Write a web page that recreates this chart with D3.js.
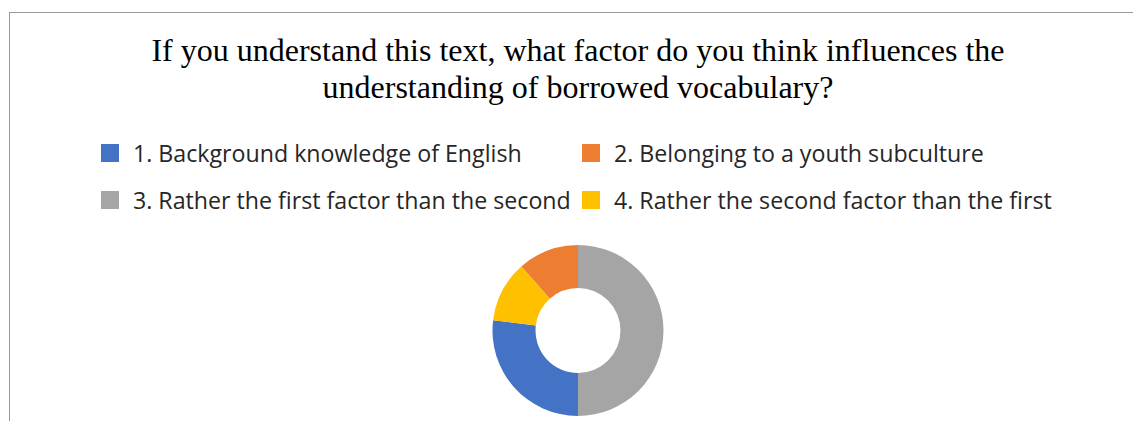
<!DOCTYPE html>
<html>
<head>
<meta charset="utf-8">
<script src="https://cdn.jsdelivr.net/npm/d3@7"></script>
<style>
  html, body { margin: 0; padding: 0; background: #fff; }
  svg { display: block; }
</style>
</head>
<body>
<svg id="chart" width="1133" height="421"></svg>
<script>
// Survey answers: number of respondents per factor
const categories = [
  "1. Background knowledge of English",
  "2. Belonging to a youth subculture",
  "3. Rather the first factor than the second",
  "4. Rather the second factor than the first"
];
const counts = [7, 3, 13, 3];
const colors = ["#4472C4", "#ED7D31", "#A5A5A5", "#FFC000"];
// clockwise order of the slices starting at 12 o'clock
const sliceOrder = [2, 0, 3, 1];
const titleLines = [
  "If you understand this text, what factor do you think influences the",
  "understanding of borrowed vocabulary?"
];

const W = 1133, H = 421;
const svg = d3.select("#chart");

// chart area frame
svg.append("rect")
  .attr("x", 9.5).attr("y", 12.5)
  .attr("width", W).attr("height", H)
  .attr("fill", "#fff")
  .attr("stroke", "#9a9a9a").attr("stroke-width", 1);

// title
svg.append("g")
  .selectAll("text")
  .data(titleLines)
  .join("text")
  .attr("x", 578)
  .attr("y", (d, i) => 61 + i * 37)
  .attr("text-anchor", "middle")
  .attr("font-family", "'Liberation Serif', 'Times New Roman', serif")
  .attr("font-size", 32)
  .attr("fill", "#000")
  .text(d => d);

// legend: two columns, two rows
const legendCols = d3.scalePoint().domain([0, 1]).range([101, 582]);
const legendRows = d3.scalePoint().domain([0, 1]).range([144, 191]);
const legend = svg.append("g")
  .selectAll("g")
  .data(categories.map((c, i) => ({ c, i })))
  .join("g")
  .attr("transform", d => `translate(${legendCols(d.i % 2)},${legendRows(Math.floor(d.i / 2))})`);
legend.append("rect")
  .attr("width", 18).attr("height", 18)
  .attr("fill", d => colors[d.i]);
legend.append("text")
  .attr("x", 32).attr("y", 18)
  .attr("font-family", "'Open Sans', Lato, sans-serif")
  .attr("font-size", 23.2)
  .attr("fill", "#262626")
  .text(d => d.c);

// donut
const data = counts.map((v, i) => ({ i, v }));
const pie = d3.pie()
  .value(d => d.v)
  .sort((a, b) => sliceOrder.indexOf(a.i) - sliceOrder.indexOf(b.i));
const arc = d3.arc().innerRadius(42.5).outerRadius(85.5);

svg.append("g")
  .attr("transform", "translate(578,330.5)")
  .selectAll("path")
  .data(pie(data))
  .join("path")
  .attr("d", arc)
  .attr("fill", d => colors[d.data.i]);
</script>
</body>
</html>
